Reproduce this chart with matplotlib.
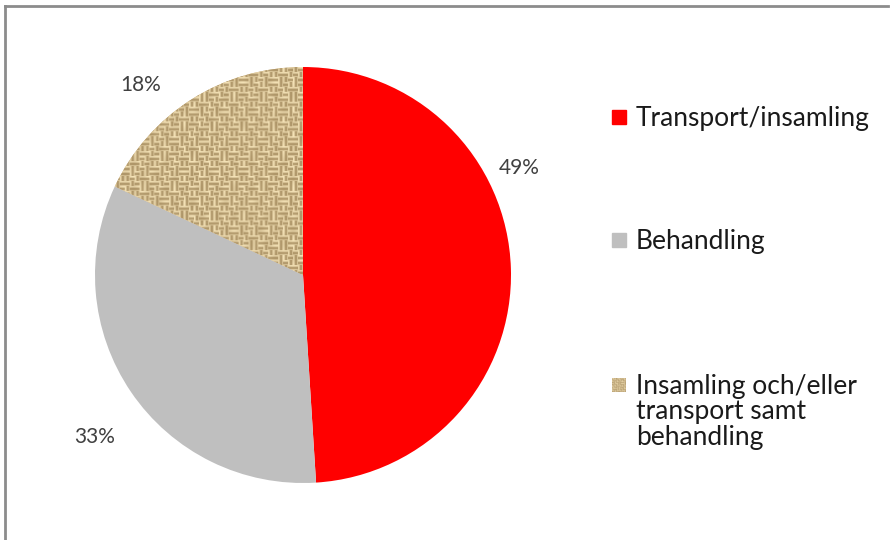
import numpy as np
import matplotlib
matplotlib.use("Agg")
import matplotlib.pyplot as plt
from matplotlib.patches import Rectangle
from matplotlib.lines import Line2D

plt.rcParams['font.family'] = ['Lato', 'DejaVu Sans']

# Share of each activity
categories = ['Transport/insamling', 'Behandling',
              'Insamling och/eller\ntransport samt\nbehandling']
shares = [49, 33, 18]
pct_labels = ['49%', '33%', '18%']

RED = '#ff0000'
GREY = '#bfbfbf'
TAN = '#c9ad7c'


def burlap(n=420):
    # woven basket texture for the last slice
    y, x = np.mgrid[0:n, 0:n]
    cell = 5
    warp = ((x // cell + y // cell) % 2) == 0
    warp ^= ((x // (2 * cell) + y // (3 * cell)) % 3) == 0
    thread_x = 0.5 + 0.5 * np.cos(2 * np.pi * (x % cell) / cell)
    thread_y = 0.5 + 0.5 * np.cos(2 * np.pi * (y % cell) / cell)
    shade = np.where(warp, thread_x, thread_y)
    shade = 0.35 + 0.65 * shade
    shade = shade * (0.9 + 0.1 * np.sin(x * 0.37) * np.cos(y * 0.23))
    light = np.array([0.96, 0.89, 0.72])
    dark = np.array([0.55, 0.44, 0.26])
    img = dark + (light - dark) * shade[..., None]
    return np.clip(img, 0, 1)


fig = plt.figure(figsize=(8.96, 5.40), dpi=100)

# grey outer frame (top and left edges visible)
frame = fig.add_axes([0, 0, 1, 1])
frame.axis('off')
frame.add_line(Line2D([4.5, 4.5], [540, 6], color='#8c8c8c', lw=2))
frame.add_line(Line2D([4.5, 888], [6, 6], color='#8c8c8c', lw=2))

ax = fig.add_axes([95 / 896, 57 / 540, 416 / 896, 416 / 540])
wedges, _ = ax.pie(shares, colors=[RED, GREY, TAN], startangle=90,
                   counterclock=False, radius=1)
ax.set_xlim(-1, 1)
ax.set_ylim(-1, 1)
ax.set_aspect('equal')

tex = ax.imshow(burlap(), extent=[-1, 1, -1, 1], zorder=3)
tex.set_clip_path(wedges[2])

# percentage labels outside the pie
label_pos = [(519, 168), (95, 437), (141, 85)]
for (px, py), txt in zip(label_pos, pct_labels):
    frame.text(px, py, txt, fontsize=15, color='#404040',
               ha='center', va='center')

# legend drawn by hand so the markers line up with the first text line
leg_y = [117, 240, 385]
for i, (name, ly) in enumerate(zip(categories, leg_y)):
    if i < 2:
        frame.add_patch(Rectangle((612, ly - 7), 14, 14,
                                  color=[RED, GREY][i]))
    else:
        frame.imshow(burlap(40), extent=[612, 626, ly + 7, ly - 7], zorder=2)
    lines = name.split('\n')
    for k, line in enumerate(lines):
        frame.text(636, ly + 9 + k * 25.5, line, fontsize=19,
                   color='#1a1a1a', ha='left', va='baseline')
frame.set_xlim(0, 896)
frame.set_ylim(540, 0)
frame.set_aspect('auto')

fig.savefig('out.png', dpi=100)
